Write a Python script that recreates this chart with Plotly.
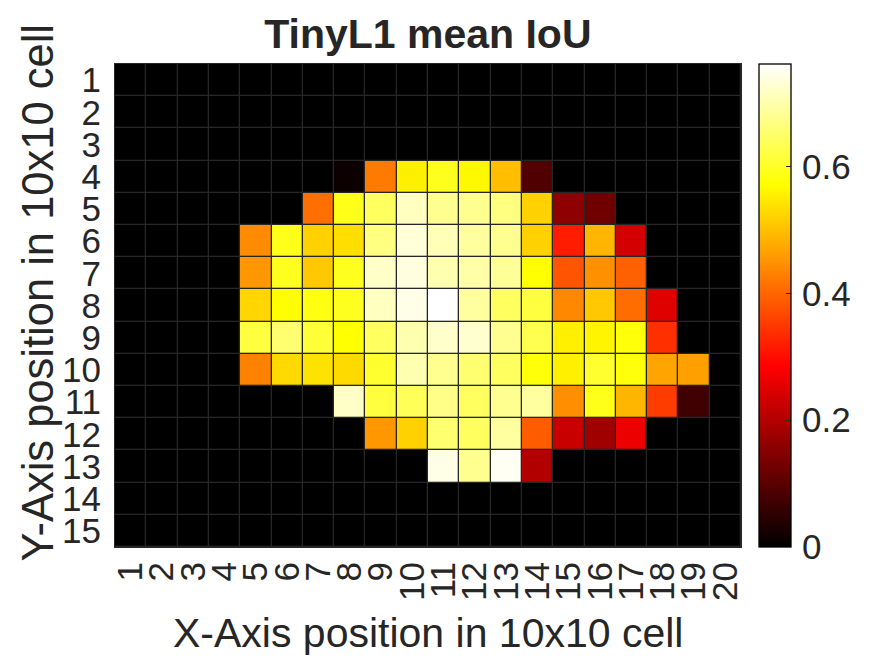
import plotly.graph_objects as go

x_labels = list(range(1, 21))
y_labels = list(range(1, 16))

empty = [0.0] * 20
row_1 = empty
row_2 = empty
row_3 = empty
row_4 = [0,0,0,0,0,0,0,.015,.423,.555,.594,.565,.50,.09,0,0,0,0,0,0]
row_5 = [0,0,0,0,0,0,.409,.59,.643,.715,.679,.679,.667,.52,.16,.125,0,0,0,0]
row_6 = [0,0,0,0,.443,.59,.52,.535,.667,.733,.709,.691,.679,.52,.317,.49,.235,0,0,0]
row_7 = [0,0,0,0,.455,.595,.51,.595,.721,.739,.703,.697,.685,.572,.38,.447,.394,0,0,0]
row_8 = [0,0,0,0,.525,.572,.584,.595,.715,.745,.762,.691,.643,.619,.438,.51,.407,.25,0,0]
row_9 = [0,0,0,0,.619,.655,.613,.572,.643,.703,.724,.727,.679,.631,.555,.56,.578,.338,0,0]
row_10 = [0,0,0,0,.43,.53,.54,.53,.607,.703,.679,.655,.643,.578,.555,.607,.578,.47,.465,0]
row_11 = [0,0,0,0,0,0,0,.721,.619,.637,.673,.643,.679,.691,.445,.59,.49,.353,.07,0]
row_12 = [0,0,0,0,0,0,0,0,.455,.52,.655,.643,.691,.389,.225,.18,.265,0,0,0]
row_13 = [0,0,0,0,0,0,0,0,0,0,.745,.679,.754,.20,0,0,0,0,0,0]
row_14 = empty
row_15 = empty
z_values = [row_1,row_2,row_3,row_4,row_5,row_6,row_7,row_8,row_9,row_10,row_11,row_12,row_13,row_14,row_15]

hot = [[0,"#000000"],[0.375,"#ff0000"],[0.75,"#ffff00"],[1,"#ffffff"]]
ink = "#262626"
font = "Liberation Sans"
clear = "rgba(0,0,0,0)"

fig = go.Figure(go.Heatmap(
    x=x_labels, y=y_labels, z=z_values, zmin=0, zmax=0.762,
    colorscale=hot, xgap=1.3, ygap=1.3,
    colorbar=dict(x=1.0295, xanchor="left", xref="paper", y=0, yanchor="bottom", yref="paper",
                  len=1, lenmode="fraction", thickness=32, thicknessmode="pixels",
                  outlinecolor="#000000", outlinewidth=1.3, xpad=0, ypad=0,
                  tick0=0, dtick=0.2, ticks="inside", ticklen=5, tickcolor=ink,
                  tickprefix="\u200a", tickfont=dict(family=font, size=35, color=ink)),
))
fig.update_layout(
    autosize=True, paper_bgcolor="white", plot_bgcolor=ink,
    margin=dict(l=114.5, r=133.5, t=63.5, b=108.5),
    title=dict(text="<b>TinyL1 mean IoU</b>", font=dict(family=font, size=41, color=ink),
               x=0.489, xref="container", xanchor="center", y=0.948, yref="container", yanchor="middle"),
    xaxis=dict(range=[0.5, 20.5], tickmode="array", tickvals=x_labels, ticktext=[str(v) for v in x_labels],
               tickangle=-90, ticks="", ticklen=0, showgrid=False, zeroline=False,
               showline=True, mirror=True, linecolor=ink, linewidth=1, automargin=False,
               tickfont=dict(family=font, size=35, color=ink)),
    yaxis=dict(range=[15.5, 0.5], tickmode="array", tickvals=y_labels, ticktext=[str(v) for v in y_labels],
               ticks="outside", ticklen=6, tickcolor=clear, showgrid=False, zeroline=False,
               showline=True, mirror=True, linecolor=ink, linewidth=1, automargin=False,
               tickfont=dict(family=font, size=35, color=ink)),
    annotations=[
        dict(text="X-Axis position in 10x10 cell", xref="paper", yref="paper", x=0.5, y=-0.1777,
             xanchor="center", yanchor="middle", showarrow=False, font=dict(family=font, size=41, color=ink)),
        dict(text="Y-Axis position in 10x10 cell", xref="paper", yref="paper", x=-0.1228, y=0.527,
             xanchor="center", yanchor="middle", textangle=-90, showarrow=False, font=dict(family=font, size=43.5, color=ink)),
    ],
)
fig.write_html("out.html", post_script="document.body.style.margin='0';window.dispatchEvent(new Event('resize'));",
               default_width="875px", default_height="656px", config=dict(displayModeBar=False))
